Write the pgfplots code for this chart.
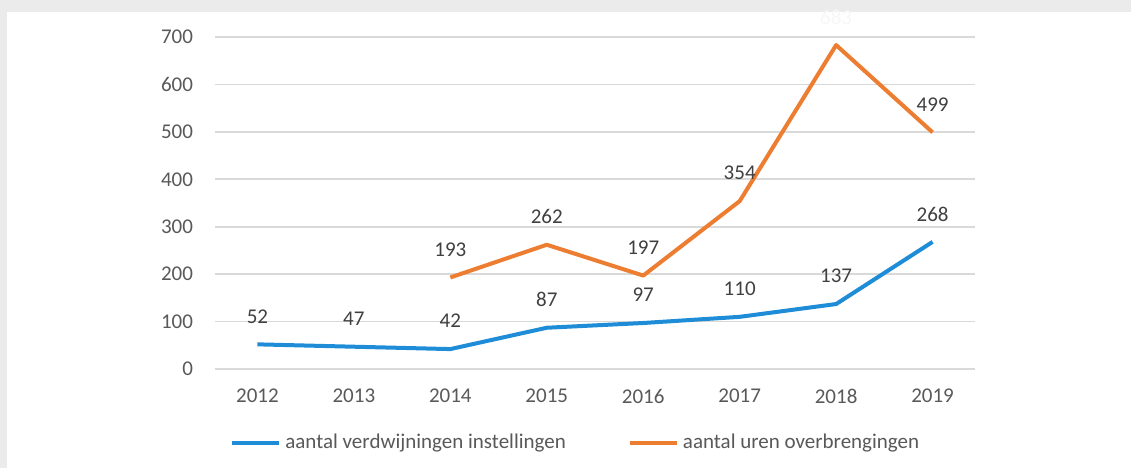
\documentclass[border=0pt]{standalone}
\usepackage{fontspec}
\setmainfont{Carlito}
\usepackage{pgfplots}
\pgfplotsset{compat=1.18}

\definecolor{framegray}{HTML}{EBEBEB}
\definecolor{gridgray}{HTML}{D9D9D9}
\definecolor{labgray}{HTML}{595959}
\definecolor{datgray}{HTML}{404040}
\definecolor{serblue}{RGB}{30,140,215}
\definecolor{serorange}{RGB}{237,125,49}

\begin{document}
\begin{tikzpicture}
% frame and white panel
\fill[framegray] (0pt,0pt) rectangle (565.5pt,-234pt);
\fill[white] (3.5pt,-6pt) rectangle (565.5pt,-234pt);
\begin{axis}[
    at={(107.5pt,-184.5pt)}, anchor=south west,
    scale only axis,
    width=380pt, height=166pt,
    xmin=-0.44, xmax=7.44,
    ymin=0, ymax=700,
    clip=false,
    axis line style={draw=none},
    tick style={draw=none},
    major tick length=0pt,
    xtick={0,...,7},
    xticklabels={2012,2013,2014,2015,2016,2017,2018,2019},
    ytick={0,100,...,700},
    ymajorgrids,
    grid style={draw=gridgray, line width=0.8pt},
    /pgf/number format/assume math mode=true,
    tick label style={font=\fontsize{10.5}{12}\selectfont, text=labgray},
    yticklabel style={anchor=east, xshift=-7.5pt},
    xticklabel style={yshift=-6.6pt},
    legend style={at={(0.476,-0.223)}, anchor=center, draw=none, fill=none,
        font=\fontsize{10.5}{12}\selectfont, text=labgray,
        /tikz/every even column/.append style={column sep=29pt}},
    legend columns=2,
    legend image code/.code={\draw[#1] (0pt,0pt) -- (23.5pt,0pt);},
    every node near coord/.append style={anchor=center, yshift=14pt,
        font=\fontsize{10.5}{12}\selectfont, text=datgray},
]
\addplot[serblue, line width=2pt, line join=round, nodes near coords]
  coordinates {
    (0,52) (1,47) (2,42) (3,87) (4,97) (5,110) (6,137) (7,268)
  };
\addlegendentry{aantal verdwijningen instellingen}
\addplot[serorange, line width=2pt, line join=round, nodes near coords,
    point meta=explicit symbolic]
  coordinates {
    (2,193) [193] (3,262) [262] (4,197) [197] (5,354) [354]
    (6,683) [{\textcolor{black!3}{683}}] (7,499) [499]
  };
\addlegendentry{aantal uren overbrengingen}
\end{axis}
\end{tikzpicture}
\end{document}
